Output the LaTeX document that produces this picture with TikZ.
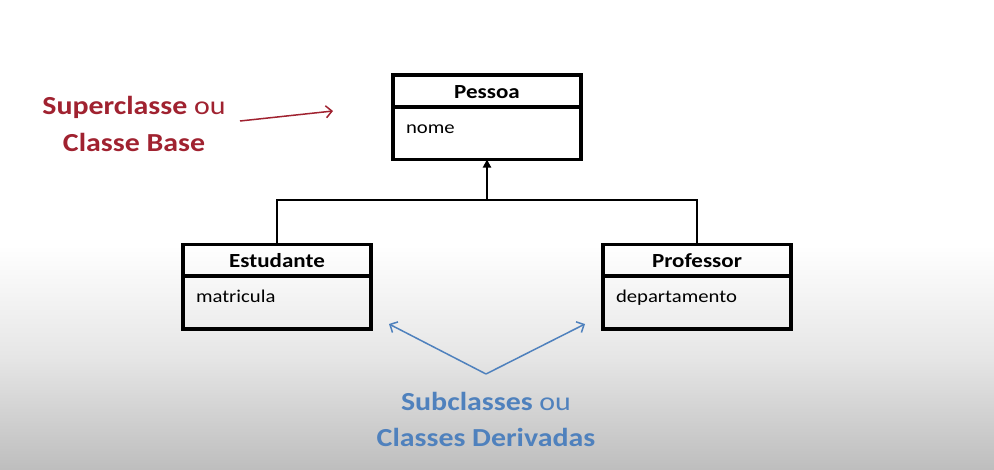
\documentclass[tikz,border=0pt]{standalone}
\usepackage{fontspec}
\setmainfont{Carlito}[FakeStretch=1.15]
\usetikzlibrary{arrows.meta}
\definecolor{supred}{RGB}{160,34,48}
\definecolor{subblue}{RGB}{79,129,189}
\definecolor{bgbottom}{RGB}{190,190,190}
\definecolor{bgmid}{RGB}{230,230,230}
\tikzset{
  classtitle/.style={draw, line width=3.5pt, minimum width=188pt, minimum height=32pt,
    inner sep=0pt, outer sep=0pt, font=\bfseries\fontsize{20}{24}\selectfont,
    text height=14pt, text depth=0pt},
  classbody/.style={draw, line width=3.5pt, minimum width=188pt, minimum height=53pt,
    inner sep=0pt, outer sep=0pt, font=\fontsize{18}{22}\selectfont,
    text width=162pt, align=left, text height=10pt, text depth=10pt},
  link/.style={line width=1.9pt},
  callout/.style={font=\fontsize{26}{36}\selectfont, anchor=base, inner sep=0pt},
  pointer/.style={line width=1.5pt, -{Straight Barb[length=6pt,width=12pt]}}
}
\begin{document}
\begin{tikzpicture}[x=1pt,y=-1pt]
  \useasboundingbox (0,0) rectangle (994,469);
  \fill[white] (0,0) rectangle (994,469);
  \shade[top color=white, bottom color=bgbottom, middle color=bgmid] (0,245) rectangle (994,469);

  % classes
  \node[classtitle] (pessoaT) at (487,91) {Pessoa};
  \node[classbody]  (pessoaB) at (487,133) {nome};
  \node[classtitle] (estT) at (277,260.5) {Estudante};
  \node[classbody]  (estB) at (277,302.5) {matricula};
  \node[classtitle] (profT) at (697,260.5) {Professor};
  \node[classbody]  (profB) at (697,302.5) {departamento};

  % inheritance connectors
  \coordinate (hub) at (487,200);
  \draw[link, -{Triangle[length=8pt,width=8pt]}] (hub) -- (pessoaB.south);
  \draw[link] (estT.north) |- (hub) -| (profT.north);

  % red callout
  \node[callout, text=supred] (sup1) at (134,114) {\textbf{Superclasse} ou};
  \node[callout, text=supred] (sup2) at (134,151) {\textbf{Classe Base}};
  \coordinate (rA) at (240,121);
  \coordinate (rB) at (333,111);
  \draw[pointer, supred] (rA) -- (rB);

  % blue callout
  \node[callout, text=subblue] (sub1) at (486,410) {\textbf{Subclasses} ou};
  \node[callout, text=subblue] (sub2) at (486,446) {\textbf{Classes Derivadas}};
  \coordinate (bV) at (486,374);
  \coordinate (bL) at (389,324);
  \coordinate (bR) at (585,324);
  \draw[pointer, subblue] (bV) -- (bL);
  \draw[pointer, subblue] (bV) -- (bR);
\end{tikzpicture}
\end{document}
